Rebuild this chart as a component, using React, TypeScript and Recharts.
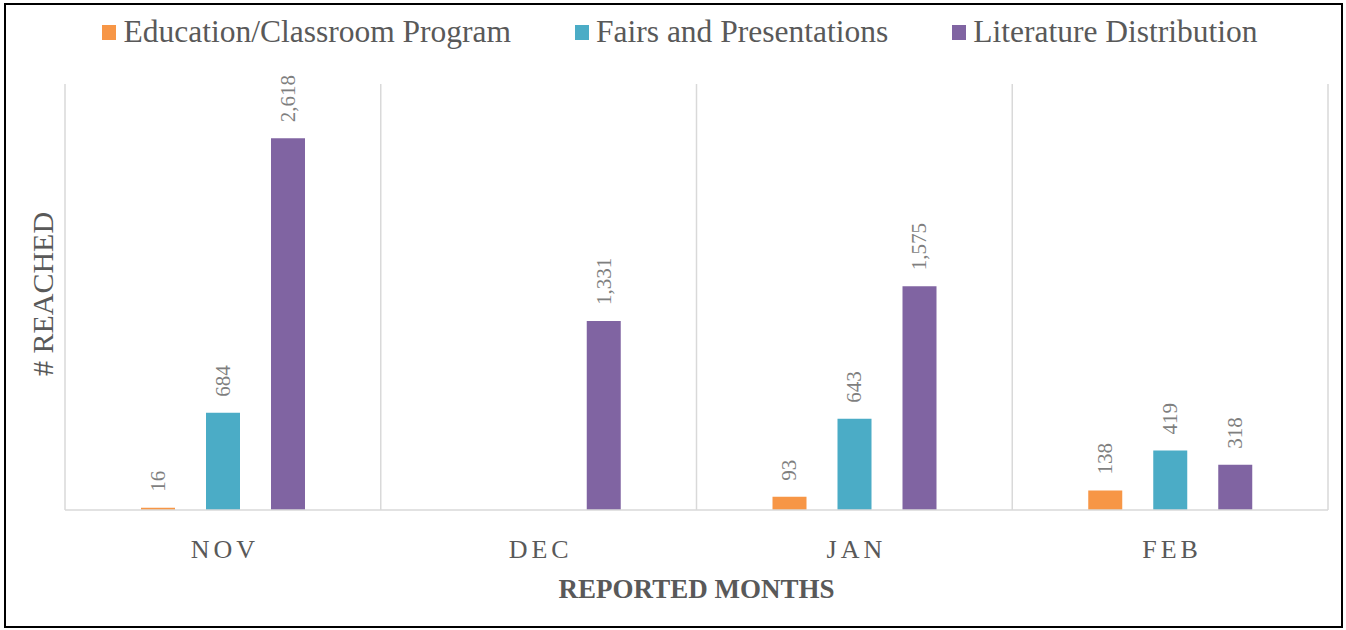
import { BarChart, Bar, XAxis, YAxis, CartesianGrid, LabelList } from 'recharts';

const months = ['NOV', 'DEC', 'JAN', 'FEB'];
const education: (number | null)[] = [16, null, 93, 138];
const fairs: (number | null)[] = [684, null, 643, 419];
const literature: (number | null)[] = [2618, 1331, 1575, 318];

const seriesNames = ['Education/Classroom Program', 'Fairs and Presentations', 'Literature Distribution'];
const seriesColors = ['#f79646', '#4bacc6', '#8064a2'];
const seriesKeys = ['education', 'fairs', 'literature'];

const data = months.map((month, i) => ({
  month,
  education: education[i],
  fairs: fairs[i],
  literature: literature[i],
}));

const FONT = '"Liberation Serif", "DejaVu Serif", serif';
const TEXT = '#595959';

function ValueLabel(props: any) {
  const { x, y, width, value } = props;
  if (value == null) return null;
  const cx = x + width / 2;
  const ty = y - 16;
  return (
    <text
      x={cx}
      y={ty}
      transform={`rotate(-90 ${cx} ${ty})`}
      textAnchor="start"
      dominantBaseline="central"
      fontFamily={FONT}
      fontSize={21}
      fill="#7f7f7f"
    >
      {Number(value).toLocaleString('en-US')}
    </text>
  );
}

function MonthTick(props: any) {
  const { x, y, payload } = props;
  return (
    <text
      x={x + 2}
      y={y + 40}
      textAnchor="middle"
      fontFamily={FONT}
      fontSize={26}
      letterSpacing={4}
      fill={TEXT}
    >
      {payload.value}
    </text>
  );
}

export default function App() {
  return (
    <div style={{ position: 'fixed', left: 0, top: 0, width: 1346, height: 630, background: '#fff' }}>
      <div
        style={{
          position: 'absolute',
          left: 4,
          top: 3,
          width: 1339,
          height: 625,
          border: '2px solid #000',
          boxSizing: 'border-box',
        }}
      />
      {/* legend */}
      <div
        style={{
          position: 'absolute',
          left: 0,
          top: 14,
          width: 1360,
          display: 'flex',
          justifyContent: 'center',
          gap: 64,
          fontFamily: FONT,
          fontSize: 31.5,
          color: TEXT,
          lineHeight: '36px',
        }}
      >
        {seriesNames.map((name, i) => (
          <div key={name} style={{ display: 'flex', alignItems: 'center', gap: 7 }}>
            <span style={{ display: 'inline-block', width: 14, height: 15, background: seriesColors[i] }} />
            <span>{name}</span>
          </div>
        ))}
      </div>
      {/* y axis title */}
      <div
        style={{
          position: 'absolute',
          left: 43,
          top: 294,
          transform: 'translate(-50%, -50%) rotate(-90deg)',
          fontFamily: FONT,
          fontSize: 30,
          color: TEXT,
          whiteSpace: 'nowrap',
        }}
      >
        # REACHED
      </div>
      <div style={{ position: 'absolute', left: 0, top: 0 }}>
        <BarChart
          width={1346}
          height={630}
          data={data}
          margin={{ top: 84, right: 18, bottom: 20, left: 65 }}
          barSize={34}
          barGap={31}
        >
          <CartesianGrid
            horizontal={false}
            stroke="#d9d9d9"
            strokeWidth={1.5}
            verticalCoordinatesGenerator={({ offset }: any) =>
              months.map((_, i) => offset.left + (i * offset.width) / months.length).concat(offset.left + offset.width)
            }
          />
          <XAxis
            dataKey="month"
            height={100}
            axisLine={{ stroke: '#d9d9d9', strokeWidth: 1.5 }}
            tickLine={false}
            tick={<MonthTick />}
            label={{
              value: 'REPORTED MONTHS',
              position: 'insideBottom',
              offset: 12,
              style: { fontFamily: FONT, fontSize: 27, fontWeight: 'bold', fill: TEXT },
            }}
          />
          <YAxis hide domain={[0, 3000]} />
          {seriesKeys.map((key, i) => (
            <Bar key={key} dataKey={key} name={seriesNames[i]} fill={seriesColors[i]} isAnimationActive={false}>
              <LabelList dataKey={key} content={<ValueLabel />} />
            </Bar>
          ))}
        </BarChart>
      </div>
    </div>
  );
}
